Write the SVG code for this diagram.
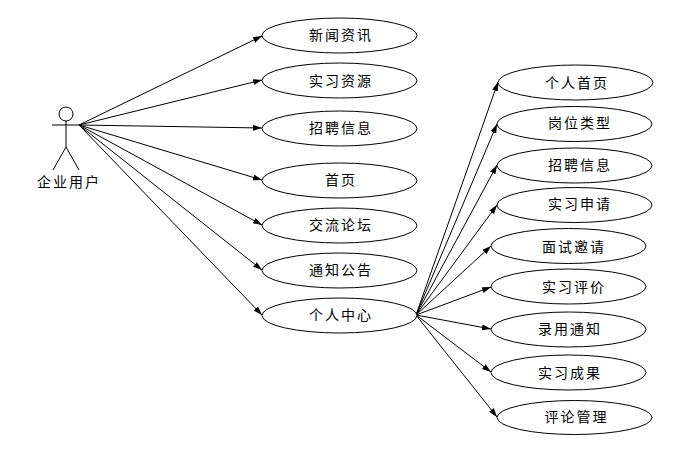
<svg xmlns="http://www.w3.org/2000/svg" width="683" height="455" viewBox="0 0 683 455">
<style>
.n ellipse{fill:#fff;stroke:#000;stroke-width:1}
text{font-family:"Noto Sans CJK SC","Liberation Sans",sans-serif;font-size:14px;letter-spacing:2px;fill:#000;text-anchor:middle}
.c line{stroke:#000;stroke-width:1;marker-end:url(#a)}
.s *{fill:none;stroke:#000;stroke-width:1}
</style>
<defs><marker id="a" markerWidth="10" markerHeight="8" refX="9" refY="3" orient="auto" markerUnits="userSpaceOnUse"><path d="M0 0L9 3L0 6Z" fill="#000"/></marker></defs>
<rect width="683" height="455" fill="#fff"/>
<g id="connectors" class="c">
<line x1="79" y1="125" x2="262" y2="36"/>
<line x1="79" y1="125" x2="262" y2="80"/>
<line x1="79" y1="125" x2="262" y2="128"/>
<line x1="79" y1="125" x2="262" y2="180"/>
<line x1="79" y1="125" x2="262" y2="225"/>
<line x1="79" y1="125" x2="262" y2="270"/>
<line x1="79" y1="125" x2="262" y2="315"/>
<line x1="416" y1="315" x2="498" y2="82"/>
<line x1="416" y1="315" x2="497" y2="124"/>
<line x1="416" y1="315" x2="497" y2="165"/>
<line x1="416" y1="315" x2="497" y2="205"/>
<line x1="416" y1="315" x2="491" y2="246"/>
<line x1="416" y1="315" x2="491" y2="287"/>
<line x1="416" y1="315" x2="491" y2="329"/>
<line x1="416" y1="315" x2="491" y2="372"/>
<line x1="416" y1="315" x2="497" y2="417"/>
</g>
<g id="actor" class="s"><circle cx="66" cy="114" r="7"/><line x1="66" y1="121" x2="66" y2="147"/><line x1="52" y1="125" x2="79" y2="125"/><line x1="66" y1="147" x2="53" y2="170"/><line x1="66" y1="147" x2="79" y2="170"/></g>
<text x="69" y="187">企业用户</text>
<g id="n1" class="n"><ellipse cx="339.500" cy="35.500" rx="77.500" ry="17.500"/><text x="341" y="40">新闻资讯</text></g>
<g id="n2" class="n"><ellipse cx="339.500" cy="80.500" rx="77.500" ry="17.500"/><text x="341" y="86">实习资源</text></g>
<g id="n3" class="n"><ellipse cx="339.500" cy="128.500" rx="77.500" ry="17.500"/><text x="341" y="133">招聘信息</text></g>
<g id="n4" class="n"><ellipse cx="339.500" cy="180.500" rx="77.500" ry="17.500"/><text x="341" y="185">首页</text></g>
<g id="n5" class="n"><ellipse cx="339.500" cy="225.500" rx="77.500" ry="17.500"/><text x="341" y="230">交流论坛</text></g>
<g id="n6" class="n"><ellipse cx="339.500" cy="270.500" rx="77.500" ry="17.500"/><text x="341" y="275">通知公告</text></g>
<g id="n7" class="n"><ellipse cx="339.500" cy="315.500" rx="77.500" ry="17.500"/><text x="341" y="320">个人中心</text></g>
<g id="m1" class="n"><ellipse cx="575.500" cy="82.500" rx="77.500" ry="17.500"/><text x="577" y="88">个人首页</text></g>
<g id="m2" class="n"><ellipse cx="574.500" cy="124" rx="77.500" ry="17.500"/><text x="580" y="128">岗位类型</text></g>
<g id="m3" class="n"><ellipse cx="574.500" cy="165.500" rx="77.500" ry="17.500"/><text x="580" y="170">招聘信息</text></g>
<g id="m4" class="n"><ellipse cx="574.500" cy="205" rx="77.500" ry="17.500"/><text x="580" y="209">实习申请</text></g>
<g id="m5" class="n"><ellipse cx="568.500" cy="246" rx="77.500" ry="17.500"/><text x="574" y="252">面试邀请</text></g>
<g id="m6" class="n"><ellipse cx="568.500" cy="286.500" rx="77.500" ry="17.500"/><text x="574" y="292">实习评价</text></g>
<g id="m7" class="n"><ellipse cx="568.500" cy="329.500" rx="77.500" ry="17.500"/><text x="570" y="334">录用通知</text></g>
<g id="m8" class="n"><ellipse cx="568.500" cy="372.500" rx="77.500" ry="17.500"/><text x="570" y="378">实习成果</text></g>
<g id="m9" class="n"><ellipse cx="574.500" cy="417.500" rx="77.500" ry="17"/><text x="576.500" y="422">评论管理</text></g>
</svg>
